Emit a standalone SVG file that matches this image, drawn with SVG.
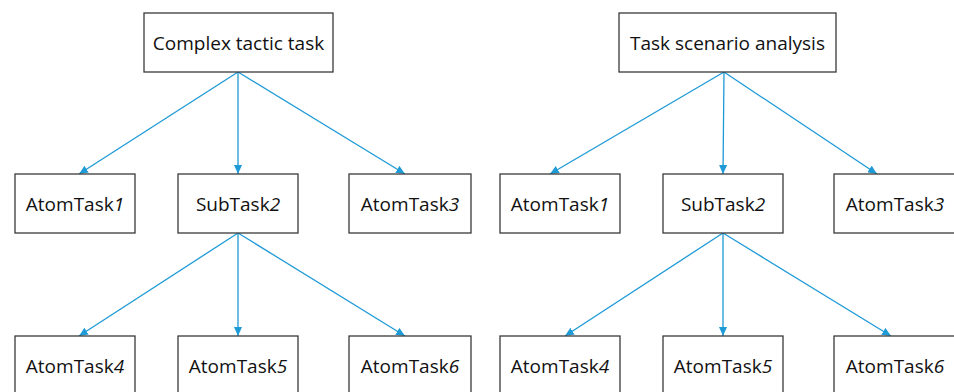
<svg xmlns="http://www.w3.org/2000/svg" width="954" height="392" viewBox="0 0 954 392">
<defs>
<style>
.box{fill:#fff;stroke:#3a3a3a;stroke-width:1.3}
.t{font-family:"Open Sans","Noto Sans",sans-serif;font-size:19px;fill:#111;text-anchor:middle}
.i{font-style:italic}
.c line{stroke:#1e9ad6;stroke-width:1.3;marker-end:url(#ah)}
</style>
<marker id="ah" markerUnits="userSpaceOnUse" markerWidth="10" markerHeight="8" refX="9" refY="4" orient="auto">
<path d="M0,0 L9,4 L0,8 Z" fill="#1e9ad6"/>
</marker>
</defs>
<rect width="954" height="392" fill="#fff"/>
<g class="c" id="connectors">
<line x1="238" y1="72" x2="79" y2="174"/>
<line x1="238" y1="72" x2="238" y2="174"/>
<line x1="238" y1="72" x2="405" y2="174"/>
<line x1="724" y1="72" x2="550" y2="174"/>
<line x1="724" y1="72" x2="723" y2="174"/>
<line x1="724" y1="72" x2="877" y2="174"/>
<line x1="238" y1="233" x2="79" y2="336"/>
<line x1="238" y1="233" x2="238" y2="336"/>
<line x1="238" y1="233" x2="405" y2="336"/>
<line x1="723" y1="233" x2="565" y2="336"/>
<line x1="723" y1="233" x2="723" y2="336"/>
<line x1="723" y1="233" x2="891" y2="336"/>
</g>
<g id="L-root"><rect class="box" x="144" y="13" width="189" height="59"/><text class="t" x="238.5" y="50">Complex tactic task</text></g>
<g id="L-a1"><rect class="box" x="15" y="174" width="120" height="59"/><text class="t" x="75" y="211">AtomTask<tspan class="i">1</tspan></text></g>
<g id="L-s2"><rect class="box" x="178" y="174" width="120" height="59"/><text class="t" x="238" y="211">SubTask<tspan class="i">2</tspan></text></g>
<g id="L-a3"><rect class="box" x="349" y="174" width="122" height="59"/><text class="t" x="410" y="211">AtomTask<tspan class="i">3</tspan></text></g>
<g id="L-a4"><rect class="box" x="15" y="336" width="120" height="70"/><text class="t" x="75" y="373">AtomTask<tspan class="i">4</tspan></text></g>
<g id="L-a5"><rect class="box" x="178" y="336" width="120" height="70"/><text class="t" x="238" y="373">AtomTask<tspan class="i">5</tspan></text></g>
<g id="L-a6"><rect class="box" x="349" y="336" width="122" height="70"/><text class="t" x="410" y="373">AtomTask<tspan class="i">6</tspan></text></g>
<g id="R-root"><rect class="box" x="619" y="13" width="217" height="59"/><text class="t" x="727.5" y="50">Task scenario analysis</text></g>
<g id="R-a1"><rect class="box" x="500" y="174" width="120" height="59"/><text class="t" x="560" y="211">AtomTask<tspan class="i">1</tspan></text></g>
<g id="R-s2"><rect class="box" x="663" y="174" width="120" height="59"/><text class="t" x="723" y="211">SubTask<tspan class="i">2</tspan></text></g>
<g id="R-a3"><rect class="box" x="834" y="174" width="121" height="59"/><text class="t" x="895" y="211">AtomTask<tspan class="i">3</tspan></text></g>
<g id="R-a4"><rect class="box" x="500" y="336" width="120" height="70"/><text class="t" x="560" y="373">AtomTask<tspan class="i">4</tspan></text></g>
<g id="R-a5"><rect class="box" x="663" y="336" width="120" height="70"/><text class="t" x="723" y="373">AtomTask<tspan class="i">5</tspan></text></g>
<g id="R-a6"><rect class="box" x="834" y="336" width="121" height="70"/><text class="t" x="895" y="373">AtomTask<tspan class="i">6</tspan></text></g>
</svg>
